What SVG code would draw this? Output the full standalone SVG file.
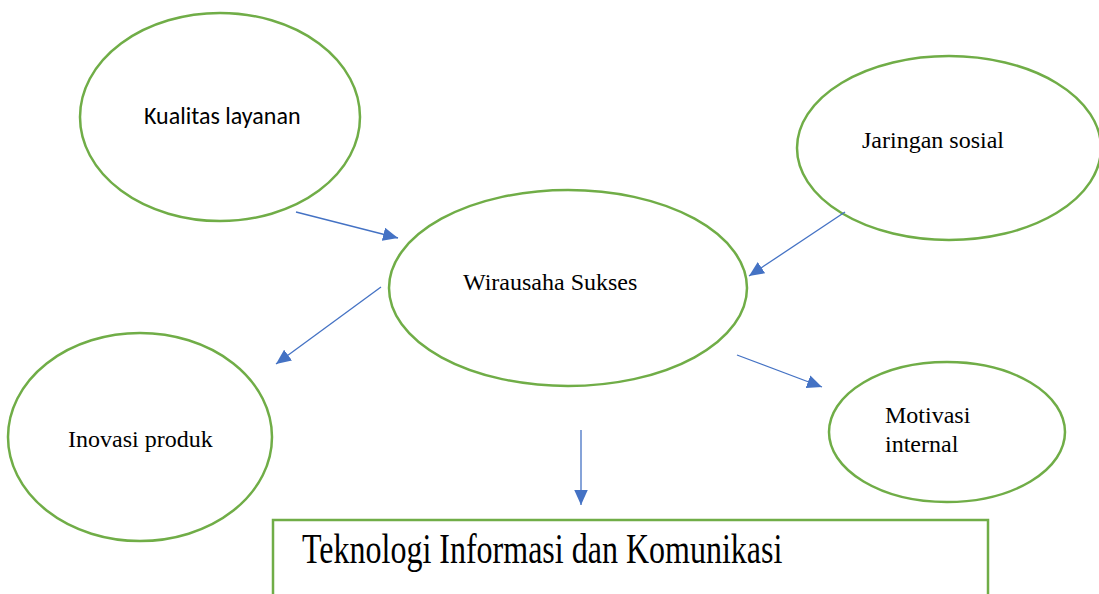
<svg xmlns="http://www.w3.org/2000/svg" width="1099" height="594" viewBox="0 0 1099 594">
  <defs>
    <marker id="head" viewBox="0 0 10 9" refX="10" refY="4.5" markerWidth="15" markerHeight="13.5" markerUnits="userSpaceOnUse" orient="auto">
      <path d="M0,0 L10,4.5 L0,9 Z" fill="#4472C4"/>
    </marker>
  </defs>
  <style>
    .shape { fill: #ffffff; stroke: #70AD47; stroke-width: 2.5; }
    .serif { font-family: "Liberation Serif", "Times New Roman", serif; font-size: 24px; fill: #000; }
    .sans { font-family: Carlito, "Liberation Sans", Arial, sans-serif; font-size: 24px; fill: #000; }
    .title { font-family: "Liberation Serif", "Times New Roman", serif; font-size: 32px; fill: #000; }
    .edge { stroke: #4472C4; stroke-width: 1.3; fill: none; marker-end: url(#head); }
  </style>
  <rect width="1099" height="594" fill="#ffffff"/>

  <g id="kualitas-layanan">
    <ellipse class="shape" cx="220" cy="117" rx="140" ry="104"/>
    <text class="sans" x="144" y="124">Kualitas layanan</text>
  </g>

  <g id="jaringan-sosial">
    <ellipse class="shape" cx="949" cy="148" rx="152" ry="92"/>
    <text class="serif" x="862" y="148">Jaringan sosial</text>
  </g>

  <g id="wirausaha-sukses">
    <ellipse class="shape" cx="568" cy="288" rx="179" ry="98"/>
    <text class="serif" x="463" y="290">Wirausaha Sukses</text>
  </g>

  <g id="inovasi-produk">
    <ellipse class="shape" cx="140" cy="437" rx="132" ry="104"/>
    <text class="serif" x="68" y="447">Inovasi produk</text>
  </g>

  <g id="motivasi-internal">
    <ellipse class="shape" cx="947" cy="432" rx="118" ry="70"/>
    <text class="serif" x="885" y="423">Motivasi</text>
    <text class="serif" x="885" y="452">internal</text>
  </g>

  <g id="tik">
    <rect class="shape" x="273" y="520" width="715" height="90"/>
    <text class="title" transform="translate(302,563) scale(1,1.3)">Teknologi Informasi dan Komunikasi</text>
  </g>

  <g id="connectors">
    <line class="edge" x1="296" y1="212" x2="398" y2="238"/>
    <line class="edge" x1="845" y1="212" x2="749" y2="276"/>
    <line class="edge" x1="381" y1="287" x2="276" y2="364"/>
    <line class="edge" x1="737" y1="355" x2="822" y2="387"/>
    <line class="edge" x1="581" y1="430" x2="581" y2="505"/>
  </g>
</svg>
